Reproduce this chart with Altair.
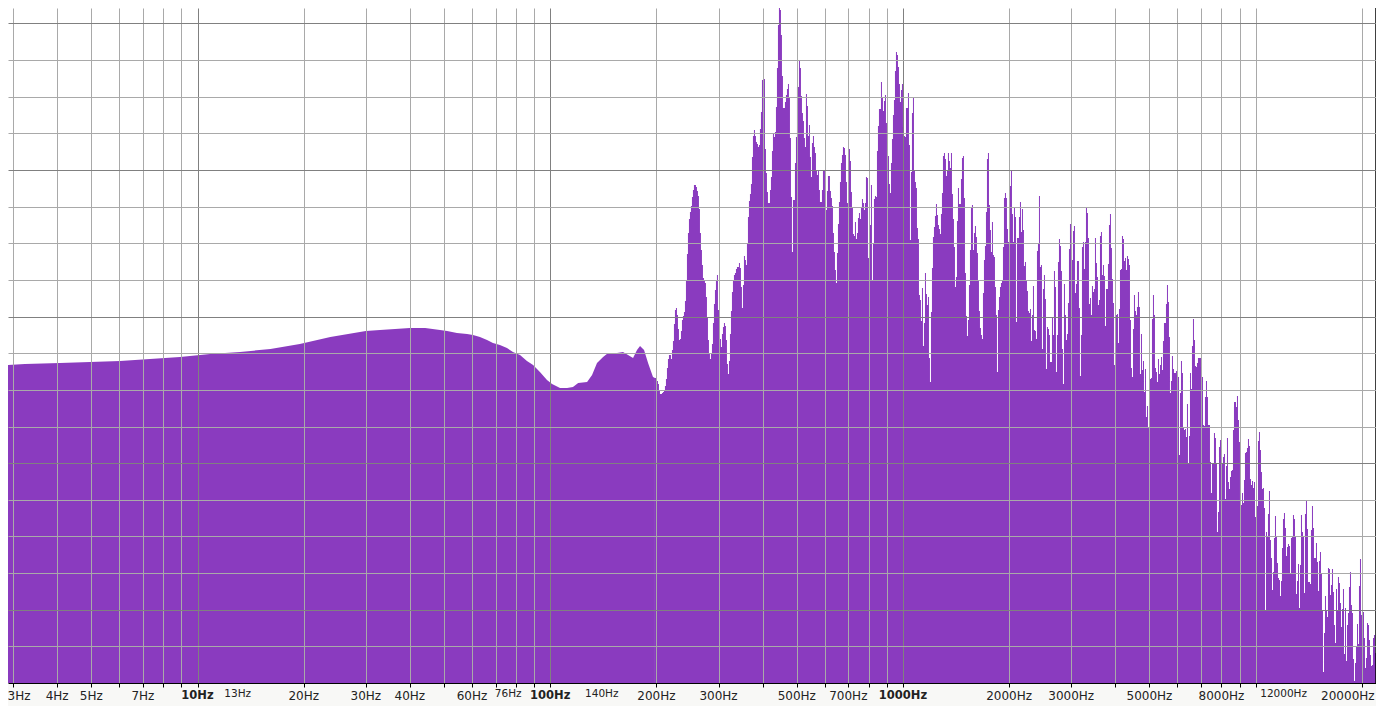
import altair as alt
import numpy as np
import pandas as pd

# Smooth low-frequency part of the spectrum: frequency (Hz) and level (chart units above the floor)
low_hz = [2.90, 3.24, 4.07, 4.96, 6.03, 7.33, 8.92, 10.85, 13.2, 16.1, 19.5, 23.8, 30.0, 32.9, 36.3, 40.0, 44.2,
          48.7, 51.0, 54.4, 58.1, 60.4, 63.2, 66.2, 68.8, 72.0, 75.4, 78.4, 82.1, 85.9, 89.4, 93.5, 97.9,
          101.2, 106.6, 111.6, 116, 120, 127.2, 131.4, 135.7, 141.2, 145.9, 154.6, 160.8, 166.2, 171.7,
          176.2, 179.7, 184.5, 189.4, 195.6, 198.1]
low_level = [318, 319, 320, 321, 322, 324, 326, 329, 331, 334, 339, 346, 352, 353, 354, 355, 355,
             353, 352, 350, 349, 348, 346, 343, 340, 338, 335, 331, 328, 322, 318, 311, 303,
             299, 295, 295, 296, 300, 301, 308, 320, 326, 330, 330, 331, 328, 325,
             333, 337, 333, 320, 306, 305]

# High-frequency part: one level per display column, read band by band
band_a = [305, 305, 302, 299, 293, 289, 289, 290, 291, 293, 297, 304, 315, 324, 328, 328, 324, 333, 342, 359,
          373, 375, 368, 354, 343, 344, 352, 363, 367, 371, 382, 402, 429, 450, 464, 471, 477, 486, 493, 498,
          498, 496, 492, 487, 474, 450, 433, 418, 405, 402, 400, 386, 366, 343, 329, 324, 329, 339, 360, 379,
          393, 402, 408, 373, 373, 344, 336, 349, 356, 360, 357, 343, 319, 309, 322, 349, 372, 391, 403, 408,
          410, 414, 416, 416, 420, 415, 396, 375, 398, 427]
band_b = [423, 418, 440, 466, 482, 489, 499, 526, 547, 553, 547, 541, 539, 536, 538, 554, 571, 603, 604, 604,
          534, 510, 491, 480, 480, 493, 506, 532, 549, 546, 551, 576, 615, 658, 680, 673, 648, 607, 575, 575,
          581, 588, 594, 599, 586, 545, 486, 431, 483, 483, 520, 546, 596, 596, 622, 615, 587, 570, 562, 545,
          536, 589, 577, 547, 558, 526, 506, 540, 547, 536, 530, 513, 508, 512, 493, 481, 481, 493, 513, 513,
          482, 473, 492, 507, 507, 492, 485, 477, 450, 431, 413, 400, 430, 459, 481]
band_c = [501, 520, 528, 536, 535, 528, 501, 480, 479, 534, 522, 491, 476, 449, 447, 461, 444, 450, 465, 470,
          464, 476, 484, 480, 473, 480, 506, 505, 425, 440, 458, 498, 403, 440, 484, 487, 486, 532, 557, 574,
          574, 601, 585, 572, 582, 588, 560, 513, 527, 499, 490, 520, 544, 568, 583, 612, 631, 628, 616, 599,
          581, 593, 599, 556, 547, 546, 575, 575, 590, 538, 443, 511, 570, 585, 512, 501, 495, 455, 444, 388,
          383, 362, 395, 337, 360, 410, 389, 378, 386, 325, 301, 371, 415, 446, 456, 467, 479, 468, 458, 454]
band_d = [449, 469, 490, 527, 530, 524, 507, 513, 530, 522, 515, 530, 489, 464, 436, 396, 406, 462, 495, 479,
          479, 504, 525, 527, 485, 410, 367, 347, 363, 398, 433, 475, 478, 433, 450, 457, 446, 430, 403, 372,
          355, 348, 344, 390, 423, 437, 471, 524, 530, 478, 453, 431, 461, 428, 426, 396, 368, 311, 373, 386,
          396, 400, 403, 436, 485, 490, 485, 454, 441, 441, 497, 512, 469, 441, 475, 466, 361, 445, 445, 466,
          481, 451, 474, 453, 417, 421, 403, 392, 372, 370, 374, 342, 368, 397, 353]
band_e = [352, 344, 432, 439, 487, 416, 418, 334, 394, 408, 384, 314, 356, 354, 348, 321, 321, 365, 348, 412,
          396, 311, 348, 421, 444, 437, 412, 334, 299, 399, 368, 343, 349, 380, 434, 459, 448, 423, 452, 457,
          390, 399, 422, 422, 375, 307, 348, 436, 441, 414, 441, 475, 470, 445, 379, 385, 368, 397, 391, 394,
          445, 420, 406, 378, 383, 447, 451, 408, 418, 407, 357, 394, 394, 419, 458, 469, 435, 404, 380, 318,
          367, 368, 369, 340, 374, 413, 414, 447, 444, 422, 425, 413, 427, 424, 418, 363, 315, 306, 354, 388,
          372, 368, 376, 391, 376]
band_f = [309, 349, 313, 322, 291, 314, 266, 277, 256, 254, 304, 305, 364, 388, 368, 315, 311, 301, 324, 309,
          318, 326, 313, 342, 360, 360, 379, 398, 381, 346, 290, 302, 327, 314, 310, 310, 312, 308, 306, 228,
          290, 322, 310, 256, 253, 254, 246, 279, 220, 247, 310, 294, 337, 364, 343, 317, 316, 320, 325, 325,
          325, 316, 306, 258, 257, 286, 302, 286, 258, 258, 221, 190, 220, 220, 250, 245, 220, 151, 171, 236,
          243, 240, 220, 226, 229, 184, 217, 245, 201, 194, 206, 212, 213, 253, 281, 281, 276, 287, 263, 241,
          183, 178, 190, 180, 203]
band_g = [230, 231, 235, 244, 237, 204, 198, 202, 195, 201, 166, 162, 177, 242, 251, 233, 211, 194, 195, 175,
          73, 151, 147, 169, 192, 143, 125, 93, 111, 145, 167, 146, 120, 105, 103, 87, 102, 135, 164, 170,
          155, 127, 136, 139, 137, 110, 145, 146, 168, 164, 146, 89, 102, 119, 75, 118, 168, 151, 147, 90,
          169, 182, 154, 101, 101, 99, 153, 177, 155, 125, 125, 140, 121, 92, 122, 131, 109, 72, 11, 50,
          87, 72, 66, 115, 114, 88, 98, 114, 91, 58, 40, 94, 72, 106, 100, 80, 56, 74, 94, 29,
          75, 22, 58, 70, 96, 111, 78, 70, 24, 2, 20, 36, 59, 39, 97, 124, 68, 71, 71, 45,
          15, 25, 60, 58, 43, 28, 17, 18, 45, 48, 30, 47, 87]

# Frequency axis
all_ticks_hz = [3, 4, 5, 6, 7, 8, 9, 10, 20, 30, 40, 50, 60, 70, 80, 90, 100, 200, 300, 400, 500, 600, 700,
                800, 900, 1000, 2000, 3000, 4000, 5000, 6000, 7000, 8000, 9000, 10000, 20000]
major_hz = [10, 100, 1000]
regular_labels_hz = [4, 5, 7, 20, 30, 40, 60, 200, 300, 500, 700, 2000, 3000, 5000, 8000]
bold_labels_hz = [10, 100, 1000]
small_labels_hz = [13, 76, 140, 12000]
first_label_hz = [3]
end_label_hz = [20000]

# Level grid
level_grid = [37, 73, 110, 147, 183, 220, 256, 293, 330, 366, 403, 440, 476, 513, 550, 586, 623, 660]
major_levels = [73, 220, 366, 513, 660]

FILL = "#8a3bbf"
GRID = "#a9a9a9"
GRID_DARK = "#808080"
FONT = "DejaVu Sans"
PLOT_W, PLOT_H = 1368, 675
LOW_END_HZ, TOP_HZ, X_MIN, X_MAX = 198.1, 22220, 2.902, 21935

high_level = band_a + band_b + band_c + band_d + band_e + band_f + band_g
if len(high_level) != 723:
    raise ValueError(str([len(b) for b in (band_a, band_b, band_c, band_d, band_e, band_f, band_g)]))
high_edges = np.geomspace(LOW_END_HZ, TOP_HZ, len(high_level) + 1)
high_df = pd.DataFrame({"hz": high_edges, "level": high_level + high_level[-1:]})
low_df = pd.DataFrame({"hz": low_hz, "level": low_level})

x_scale = alt.Scale(type="log", domain=[X_MIN, X_MAX], nice=False, clamp=False)
y_scale = alt.Scale(domain=[0, PLOT_H], nice=False, zero=False)


def in_list(values):
    return "indexof(" + str(values) + ", datum.value) >= 0"


x_axis = alt.Axis(
    title=None, values=all_ticks_hz, labels=False, grid=True, zindex=1, tickCount=100,
    gridColor=alt.condition(in_list(major_hz), alt.value(GRID_DARK), alt.value(GRID)),
    gridWidth=1, gridOpacity=1, domain=True, domainColor="#000000", domainWidth=1,
    ticks=True, tickColor="#000000", tickSize=4, tickWidth=1,
)
y_axis = alt.Axis(
    title=None, values=level_grid, labels=False, grid=True, zindex=1, ticks=False, domain=False, tickCount=100,
    gridColor=alt.condition(in_list(major_levels), alt.value(GRID_DARK), alt.value(GRID)),
    gridWidth=1, gridOpacity=1,
)

low_area = alt.Chart(low_df).mark_area(color=FILL, interpolate="linear", clip=True).encode(
    x=alt.X("hz:Q", scale=x_scale, axis=x_axis),
    y=alt.Y("level:Q", scale=y_scale, axis=y_axis, stack=None),
)
high_area = alt.Chart(high_df).mark_area(color=FILL, interpolate="step-after", clip=True).encode(
    x=alt.X("hz:Q", scale=x_scale),
    y=alt.Y("level:Q", scale=y_scale, stack=None),
)


def tick_labels(hz_values, font_size, label_y, weight="normal", dx=0):
    df = pd.DataFrame({"hz": hz_values, "label": [str(h) + "Hz" for h in hz_values]})
    return alt.Chart(df).mark_text(
        font=FONT, fontSize=font_size, fontWeight=weight, color="#222222", align="center",
        baseline="middle", dx=dx,
    ).encode(x=alt.X("hz:Q", scale=x_scale), y=alt.value(label_y), text="label:N")


right_edge = alt.Chart(pd.DataFrame({"hz": [21900]})).mark_rule(color="#000000", strokeWidth=1).encode(
    x=alt.X("hz:Q", scale=x_scale)
)

chart = alt.layer(
    low_area,
    high_area,
    right_edge,
    tick_labels(regular_labels_hz, 12, 688),
    tick_labels(bold_labels_hz, 11.5, 688, weight="bold"),
    tick_labels(small_labels_hz, 10.5, 686),
    tick_labels(first_label_hz, 12, 688, dx=6),
    tick_labels(end_label_hz, 12, 688, dx=-14),
).properties(
    width=PLOT_W,
    height=PLOT_H,
    padding={"left": 0, "top": 0, "right": 0, "bottom": 23},
    autosize=alt.AutoSizeParams(type="none"),
    background="#f8f8f6",
    view=alt.ViewConfig(fill="#ffffff", stroke=None),
)

chart.save("out.html", embed_options={"renderer": "svg", "actions": False})
